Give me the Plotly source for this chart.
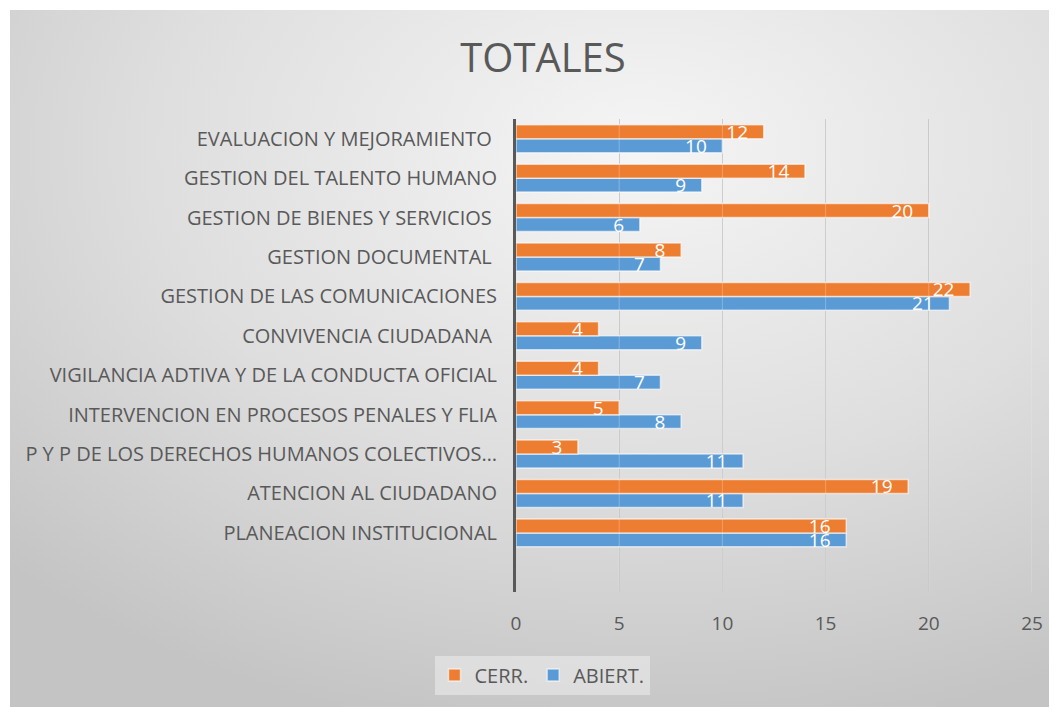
import base64
import plotly.graph_objects as go

categories = [
    "PLANEACION INSTITUCIONAL",
    "ATENCION AL CIUDADANO",
    "P Y P DE LOS DERECHOS HUMANOS COLECTIVOS…",
    "INTERVENCION EN PROCESOS PENALES Y FLIA",
    "VIGILANCIA ADTIVA Y DE LA CONDUCTA OFICIAL",
    "CONVIVENCIA CIUDADANA ",
    "GESTION DE LAS COMUNICACIONES",
    "GESTION DOCUMENTAL ",
    "GESTION DE BIENES Y SERVICIOS ",
    "GESTION DEL TALENTO HUMANO",
    "EVALUACION Y MEJORAMIENTO ",
]
cerr = [16, 19, 3, 5, 4, 4, 22, 8, 20, 14, 12]
abiert = [16, 11, 11, 8, 7, 9, 21, 7, 6, 9, 10]
x_ticks = [0, 5, 10, 15, 20, 25]

OFF = 8  # page body margin
W, H = 1057 - OFF, 707 - OFF
L, R, T, B = 516 - OFF, 25, 119 - OFF, 707 - 592
pw, ph = W - L - R, H - T - B

svg = (
    '<svg xmlns="http://www.w3.org/2000/svg" width="1047" height="697" '
    'preserveAspectRatio="none" viewBox="0 0 1047 697">'
    '<defs><radialGradient id="g" cx="0.6" cy="0.2" r="0.85" '
    'gradientUnits="objectBoundingBox">'
    '<stop offset="0" stop-color="#f5f5f5"/>'
    '<stop offset="0.55" stop-color="#dedede"/>'
    '<stop offset="1" stop-color="#c4c4c4"/>'
    '</radialGradient></defs>'
    '<rect width="1047" height="697" fill="url(#g)"/></svg>'
)
src = "data:image/svg+xml;base64," + base64.b64encode(svg.encode()).decode()

label_font = dict(family="Open Sans", size=19, color="white")
pad = "\u2002\u2009"

fig = go.Figure()
fig.add_trace(go.Bar(
    y=categories, x=abiert, orientation="h", name="ABIERT.",
    marker=dict(color="#5B9BD5", line=dict(color="rgba(255,255,255,0.6)", width=1.5)),
    text=abiert, texttemplate="%{text}" + pad, textposition="inside",
    insidetextanchor="end", textangle=0,
    constraintext="none", textfont=label_font, cliponaxis=False,
))
fig.add_trace(go.Bar(
    y=categories, x=cerr, orientation="h", name="CERR.",
    marker=dict(color="#ED7D31", line=dict(color="rgba(255,255,255,0.6)", width=1.5)),
    text=cerr, texttemplate="%{text}" + pad, textposition="inside",
    insidetextanchor="end", textangle=0,
    constraintext="none", textfont=label_font, cliponaxis=False,
))

# light grid lines showing through the bars
shapes = [dict(type="line", xref="x", yref="paper", x0=v, x1=v, y0=0, y1=1,
               line=dict(color="rgba(255,255,255,0.25)", width=1), layer="above")
          for v in x_ticks[1:]]

fig.update_layout(
    width=W, height=H,
    margin=dict(l=L, r=R, t=T, b=B, pad=0, autoexpand=False),
    paper_bgcolor="white",
    plot_bgcolor="rgba(0,0,0,0)",
    barmode="group",
    bargap=0.29,
    bargroupgap=0,
    font=dict(family="Open Sans", color="#595959", size=20),
    title=dict(text="TOTALES", x=(543 - OFF) / W, y=1 - (58 - OFF) / H, xanchor="center",
               yanchor="middle", font=dict(size=40, color="#595959")),
    showlegend=True,
    legend=dict(orientation="h", traceorder="reversed",
                x=(542 - 516) / pw, xanchor="center",
                y=-(675 - 592) / ph, yanchor="middle",
                bgcolor="rgba(235,235,235,0.6)",
                font=dict(size=20, color="#595959"),
                itemwidth=30),
    images=[dict(source=src, xref="paper", yref="paper",
                 x=(2 - L) / pw, y=1 + (T - 2) / ph,
                 sizex=(W - 2) / pw, sizey=(H - 2) / ph,
                 xanchor="left", yanchor="top", sizing="stretch",
                 layer="below")],
    shapes=shapes,
)
fig.update_xaxes(range=[0, 25], tickvals=x_ticks, showgrid=True,
                 gridcolor="#bfbfbf", gridwidth=1, zeroline=False,
                 showline=False, ticks="", tickfont=dict(size=19, color="#595959"),
                 ticklabelstandoff=18, automargin=False)
fig.update_yaxes(type="category", categoryorder="array", categoryarray=categories,
                 range=[-1.5, 10.5], showgrid=False, zeroline=False,
                 showline=True, linecolor="#595959", linewidth=3,
                 ticks="", ticklabelstandoff=12, automargin=False,
                 tickfont=dict(size=20, color="#595959"))

fig.write_html("out.html")
